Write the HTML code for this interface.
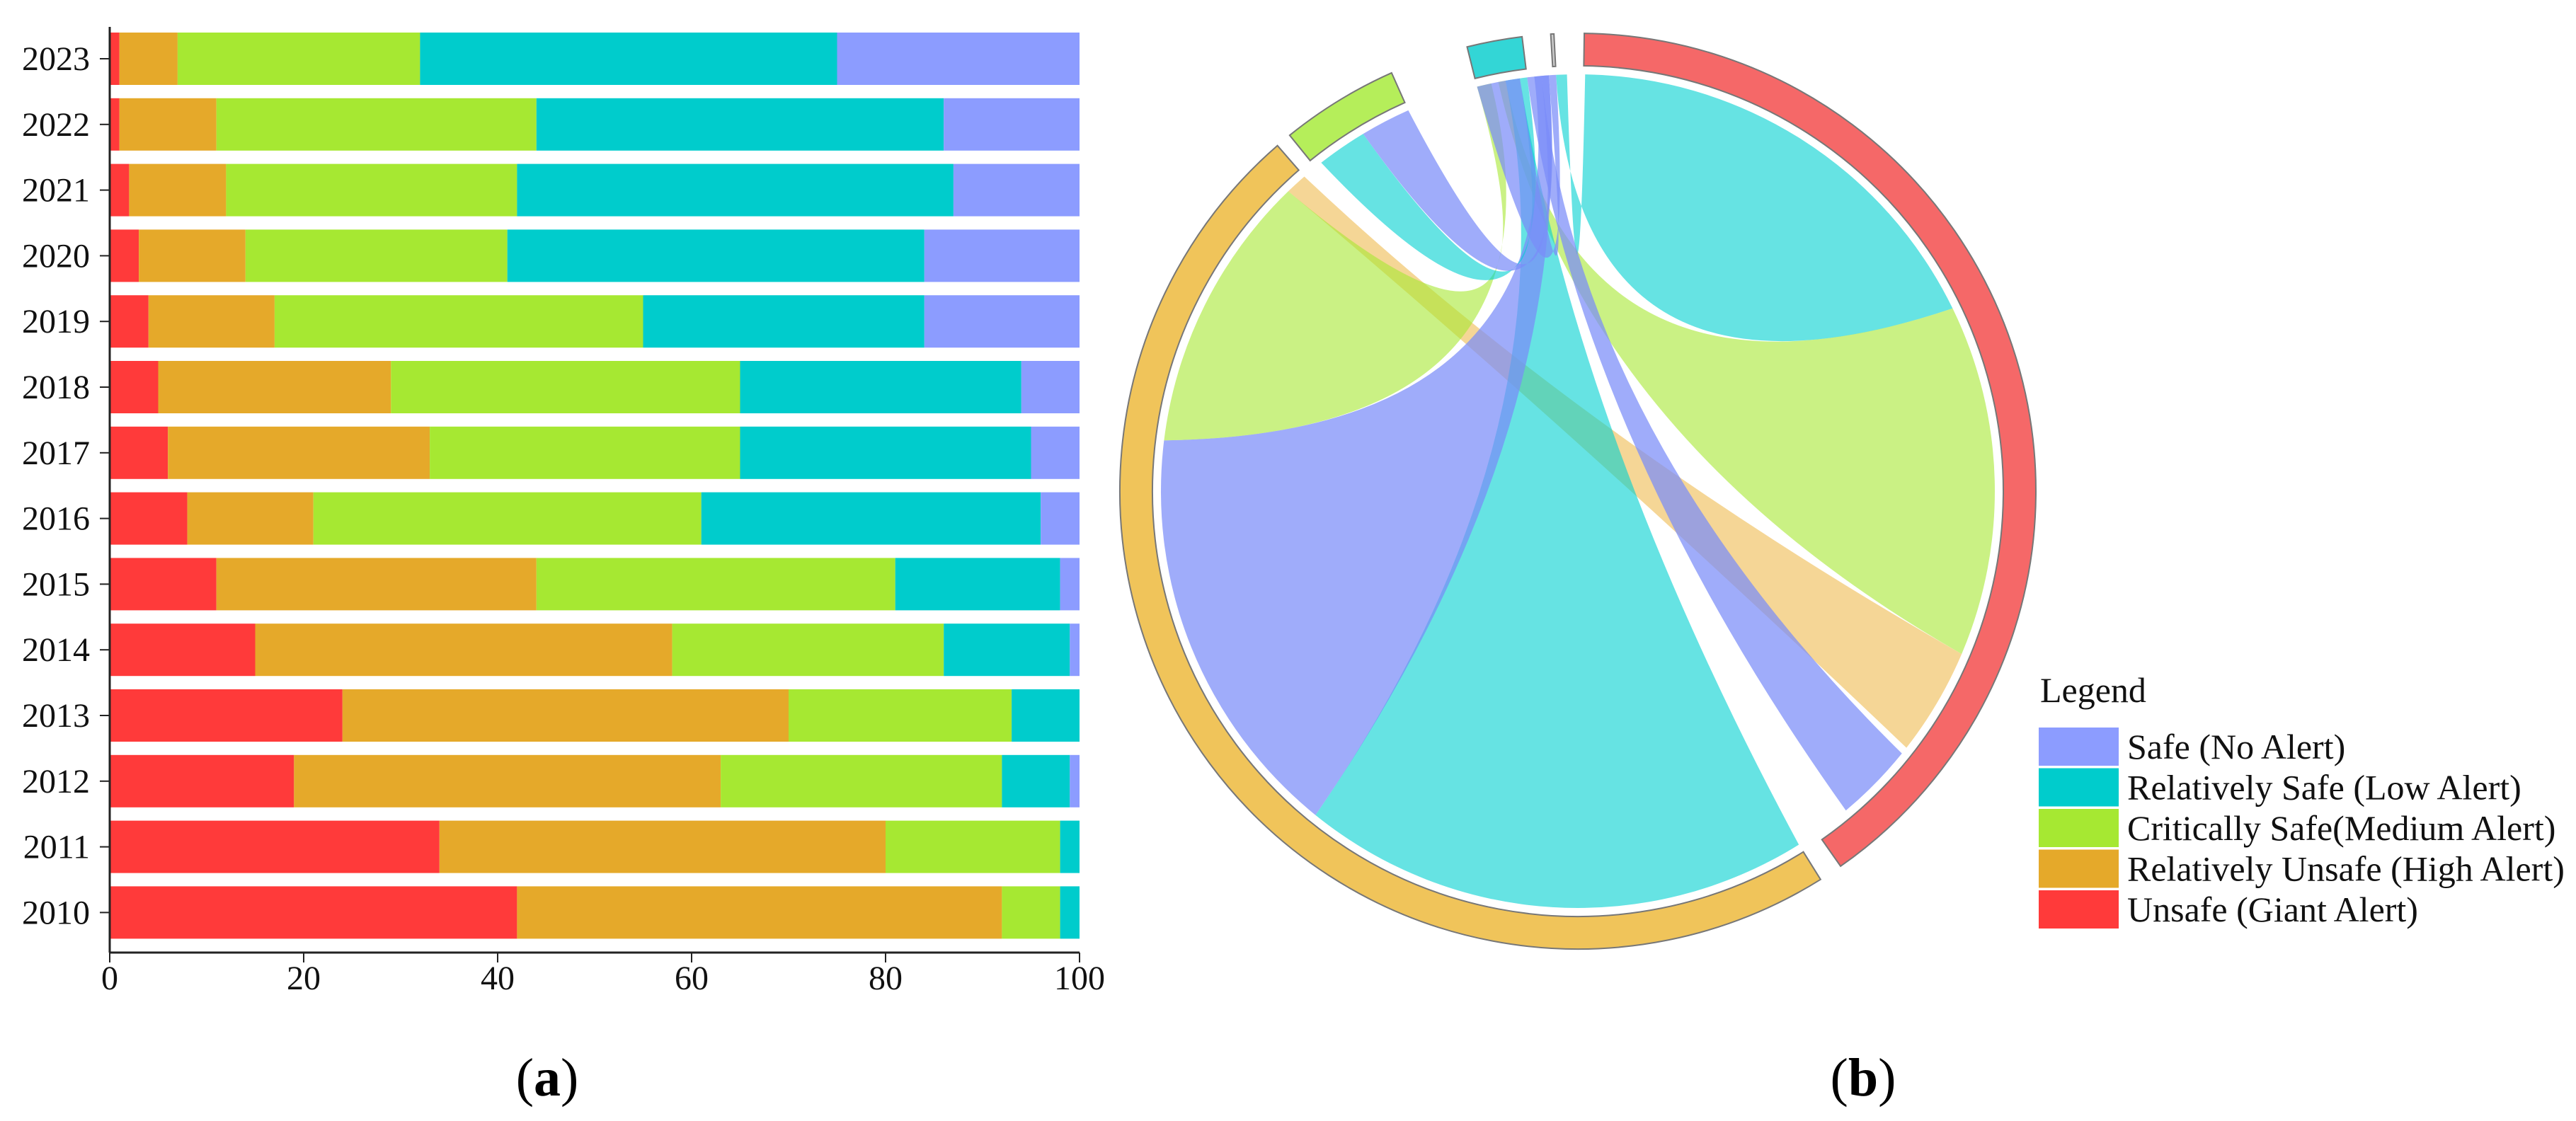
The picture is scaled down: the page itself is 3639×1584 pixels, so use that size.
<!DOCTYPE html>
<html><head><meta charset="utf-8"><style>
html,body{margin:0;padding:0;background:#fff;}
svg{display:block;font-family:"Liberation Serif",serif;}
</style></head><body>
<svg id="s" width="3639" height="1584" viewBox="0 0 3639 1584">
<g id="bars"></g>
<g id="chord"></g>
<g id="legend"></g>
<text x="773" y="1548" font-size="76" text-anchor="middle">(<tspan font-weight="bold">a</tspan>)</text>
<text x="2632" y="1548" font-size="76" text-anchor="middle">(<tspan font-weight="bold">b</tspan>)</text>
</svg>
<script>
const years=["2023","2022","2021","2020","2019","2018","2017","2016","2015","2014","2013","2012","2011","2010"];
const unsafe=[1,1,2,3,4,5,6,8,11,15,24,19,34,42];
const relUnsafe=[6,10,10,11,13,24,27,13,33,43,46,44,46,50];
const critSafe=[25,33,30,27,38,36,32,40,37,28,23,29,18,6];
const relSafe=[43,42,45,43,29,29,30,35,17,13,7,7,2,2];
const safe=[25,14,13,16,16,6,5,4,2,1,0,1,0,0];
const xTicks=[0,20,40,60,80,100];
const seriesNames=["Safe (No Alert)","Relatively Safe (Low Alert)","Critically Safe(Medium Alert)","Relatively Unsafe (High Alert)","Unsafe (Giant Alert)"];
const groupStart=[0.8,148,321,346,356.6];
const groupEnd=[145,319,336,353,357];
const groupIdx=["unsafe","relUnsafe","critSafe","relSafe","safe"];
const ribA0=[1,64,113,129,148,219,277,322,329,346];
const ribA1=[64,113,128,140,219,277,316,329,336,352];
const ribB0=[357,349,316,353,350,354,346,352,355,356];
const ribB1=[358.5,350,319,355,352,356,348,353,356,357];
const ribC=[1,2,3,0,1,0,2,1,0,0];

const NS="http://www.w3.org/2000/svg";
function mk(t,a,p){const e=document.createElementNS(NS,t);for(const k in a)e.setAttribute(k,a[k]);(p||document.getElementById('s')).appendChild(e);return e;}
const barCols=["#8c9cff","#00cccc","#a6e832","#e5a92a","#ff3a3a"];
const bars=document.getElementById('bars');
const x0=155,x1=1525,top0=46,pitch=92.8,bh=74,axY=1346;
const xs=v=>x0+(x1-x0)*v/100;
years.forEach((y,i)=>{
  const yt=top0+i*pitch;
  const vals=[unsafe[i],relUnsafe[i],critSafe[i],relSafe[i],safe[i]];
  const cols=["#ff3a3a","#e5a92a","#a6e832","#00cccc","#8c9cff"];
  let c=0;
  vals.forEach((v,j)=>{
    if(v<=0)return;
    const r=mk('rect',{x:xs(c),y:yt,width:xs(c+v)-xs(c),height:bh,fill:cols[j]},bars);
    
    
    c+=v;
  });
  const t=mk('text',{x:127,y:yt+bh/2+16,'font-size':48,'text-anchor':'end',fill:'#111'},bars);
  t.textContent=y;
  
  
  const tk=mk('line',{x1:141,x2:155,y1:yt+bh/2,y2:yt+bh/2,stroke:'#222','stroke-width':2},bars);
  
  
});
let ax=mk('line',{x1:x0,x2:x0,y1:38,y2:axY,stroke:'#222','stroke-width':3},bars);

ax=mk('line',{x1:x0,x2:x1,y1:axY,y2:axY,stroke:'#222','stroke-width':3},bars);

xTicks.forEach(v=>{
  const l=mk('line',{x1:xs(v),x2:xs(v),y1:axY,y2:axY+14,stroke:'#222','stroke-width':2},bars);
  
  const t=mk('text',{x:xs(v),y:1398,'font-size':48,'text-anchor':'middle',fill:'#111'},bars);
  t.textContent=v;
  
});

const ch=document.getElementById('chord');
const cx=2229,cy=694,Ro=647,Ri=601,Rc=589;
const pt=(a,r)=>{const t=a*Math.PI/180;return [cx+r*Math.sin(t),cy-r*Math.cos(t)];};
const ribCols=["#7a8cf8","#00d0d0","#a6e832","#eebb50","#ff4a4a"];
const ribOp=[0.72,0.6,0.6,0.6,0.6];
ribA0.forEach((a0,i)=>{
  const a1=ribA1[i],b0=ribB0[i],b1=ribB1[i];
  const p0=pt(a0,Rc),p1=pt(a1,Rc),q0=pt(b0,Rc),q1=pt(b1,Rc);
  const la=(a1-a0)>180?1:0;
  const d=`M${p0}A${Rc},${Rc} 0 ${la} 1 ${p1}Q${cx},${cy-80} ${q0}A${Rc},${Rc} 0 0 1 ${q1}Q${cx},${cy-80} ${p0}Z`;
  const p=mk('path',{d:d,fill:ribCols[ribC[i]],'fill-opacity':ribOp[ribC[i]]},ch);
  
  
});
const ringCols=["#f56868","#f0c45a","#b5ee5a","#33d6d6","#cccccc"];
groupStart.forEach((s,i)=>{
  const e=groupEnd[i];
  const la=(e-s)>180?1:0;
  const a=pt(s,Ro),b=pt(e,Ro),c=pt(e,Ri),d0=pt(s,Ri);
  const d=`M${a}A${Ro},${Ro} 0 ${la} 1 ${b}L${c}A${Ri},${Ri} 0 ${la} 0 ${d0}Z`;
  const p=mk('path',{d:d,fill:ringCols[i],stroke:'#777','stroke-width':2},ch);
  
  
});

const lg=document.getElementById('legend');
const lt=mk('text',{x:2882,y:992,'font-size':50,fill:'#111'},lg);
lt.textContent="Legend";

seriesNames.forEach((n,i)=>{
  const y=1028+i*57.5;
  const r=mk('rect',{x:2880,y:y,width:113,height:54,fill:barCols[i]},lg);
  
  const t=mk('text',{x:3005,y:y+44,'font-size':50,fill:'#111'},lg);
  t.textContent=n;
  
});
</script>
</body></html>
